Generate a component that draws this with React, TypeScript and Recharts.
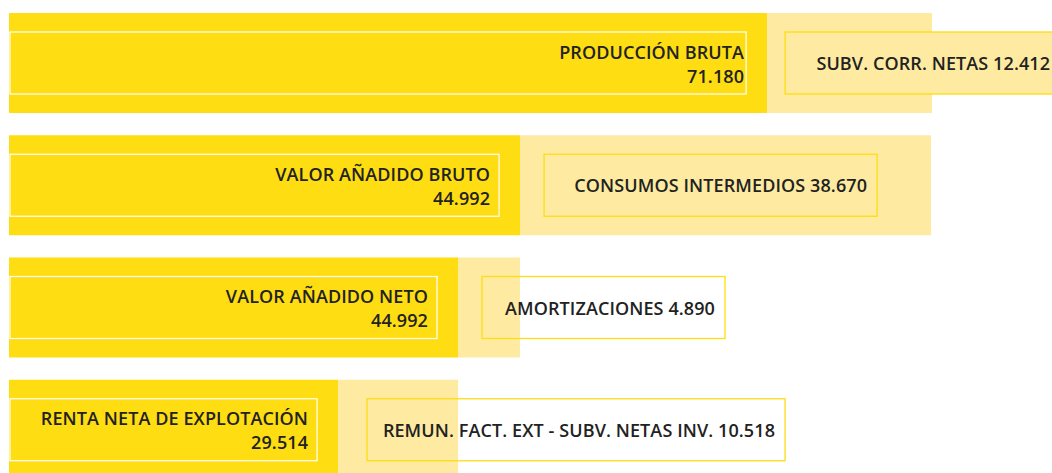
import { BarChart, Bar, XAxis, YAxis, LabelList } from "recharts";

const DARK = "#FEDD12";
const LIGHT = "#FEEBA1";
const TEXT = "#222222";
const FONT = "'Open Sans', sans-serif";

// values (thousand units)
const categories = [
  "PRODUCCIÓN BRUTA",
  "VALOR AÑADIDO BRUTO",
  "VALOR AÑADIDO NETO",
  "RENTA NETA DE EXPLOTACIÓN",
];
const mainValues = [68.65, 46.28, 40.66, 29.8];
const restValues = [14.94, 37.22, 5.61, 10.87];
const mainLabels = ["71.180", "44.992", "44.992", "29.514"];
const restLabels = [
  "SUBV. CORR. NETAS 12.412",
  "CONSUMOS INTERMEDIOS 38.670",
  "AMORTIZACIONES 4.890",
  "REMUN. FACT. EXT - SUBV. NETAS INV. 10.518",
];

// label layout: right padding of the text inside the dark box,
// and the box for the light segment, offset from its start
const mainTextPad = [2, 9, 9, 9];
const restBoxes = [
  { dx: 18, w: 275, filled: true },
  { dx: 24, w: 333, filled: false },
  { dx: 24, w: 243, filled: false },
  { dx: 29, w: 418, filled: false },
];

const data = categories.map((name, i) => ({
  name,
  main: mainValues[i],
  rest: restValues[i],
}));

const textStyle = {
  fontFamily: FONT,
  fontWeight: 600,
  fontSize: 18,
  letterSpacing: 0.1,
  fill: TEXT,
};

function MainLabel(props: any) {
  const { x, y, width, index } = props;
  const bx = x + 1;
  const bw = width - 22;
  const right = bx + bw - mainTextPad[index];
  return (
    <g>
      <rect x={bx} y={y + 19} width={bw} height={62} fill="none" stroke="#ffffff" strokeWidth={1.2} />
      <text x={right} y={y + 45.5} textAnchor="end" style={textStyle}>
        {categories[index]}
      </text>
      <text x={right} y={y + 69.5} textAnchor="end" style={textStyle}>
        {mainLabels[index]}
      </text>
    </g>
  );
}

function RestLabel(props: any) {
  const { x, y, index } = props;
  const box = restBoxes[index];
  const bx = x + box.dx;
  return (
    <g>
      <rect
        x={bx}
        y={y + 19}
        width={box.w}
        height={62}
        fill={box.filled ? LIGHT : "none"}
        stroke={DARK}
        strokeWidth={1.3}
      />
      <text x={bx + box.w - 10} y={y + 57} textAnchor="end" style={textStyle}>
        {restLabels[index]}
      </text>
    </g>
  );
}

export default function App() {
  return (
    <div style={{ position: "absolute", left: 0, top: 0, width: 1052, height: 473, overflow: "hidden", background: "#fff" }}>
      <BarChart
        width={1052}
        height={492}
        data={data}
        layout="vertical"
        margin={{ top: 2, right: 0, bottom: 1, left: 9 }}
        barSize={100}
      >
        <XAxis type="number" hide domain={[0, 94.45]} />
        <YAxis type="category" dataKey="name" hide />
        <Bar dataKey="main" stackId="a" fill={DARK} isAnimationActive={false}>
          <LabelList dataKey="main" content={MainLabel} />
        </Bar>
        <Bar dataKey="rest" stackId="a" fill={LIGHT} isAnimationActive={false}>
          <LabelList dataKey="rest" content={RestLabel} />
        </Bar>
      </BarChart>
    </div>
  );
}
